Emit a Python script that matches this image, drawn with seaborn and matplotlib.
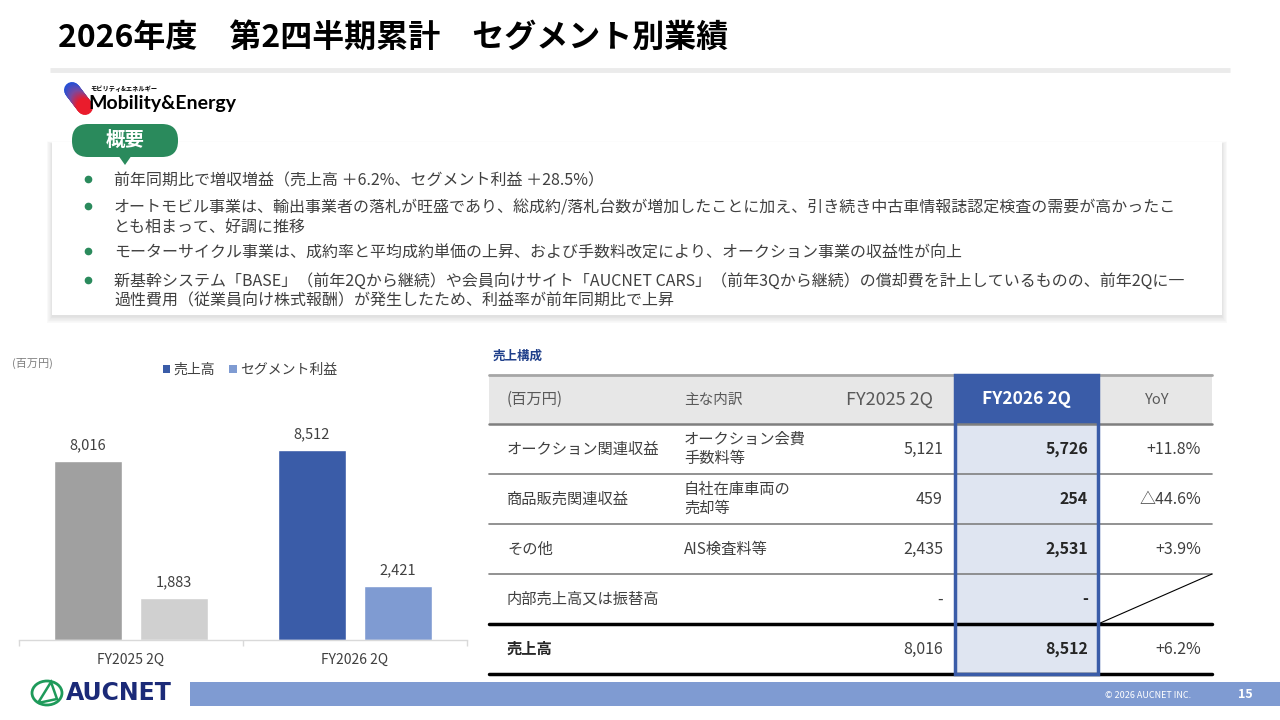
import numpy as np
import pandas as pd
import matplotlib
matplotlib.use('Agg')
import matplotlib.pyplot as plt
import seaborn as sns
from matplotlib.patches import Rectangle, FancyBboxPatch, Polygon, Ellipse
from matplotlib.collections import LineCollection

# ---- data ----
periods = ['FY2025 2Q', 'FY2026 2Q']
sales = [8016, 8512]
seg_profit = [1883, 2421]
series_names = ['売上高', 'セグメント利益']

title = '2026年度　第2四半期累計　セグメント別業績'
bullets = [
    '前年同期比で増収増益（売上高 ＋6.2%、セグメント利益 ＋28.5%）',
    'オートモビル事業は、輸出事業者の落札が旺盛であり、総成約/落札台数が増加したことに加え、引き続き中古車情報誌認定検査の需要が高かったこ\nとも相まって、好調に推移',
    'モーターサイクル事業は、成約率と平均成約単価の上昇、および手数料改定により、オークション事業の収益性が向上',
    '新基幹システム「BASE」（前年2Qから継続）や会員向けサイト「AUCNET CARS」（前年3Qから継続）の償却費を計上しているものの、前年2Qに一\n過性費用（従業員向け株式報酬）が発生したため、利益率が前年同期比で上昇',
]

table_header = ['(百万円)', '主な内訳', 'FY2025 2Q', 'FY2026 2Q', 'YoY']
row_labels = ['オークション関連収益', '商品販売関連収益', 'その他', '内部売上高又は振替高', '売上高']
row_details = ['オークション会費\n手数料等', '自社在庫車両の\n売却等', 'AIS検査料等', '', '']
fy2025_vals = ['5,121', '459', '2,435', '-', '8,016']
fy2026_vals = ['5,726', '254', '2,531', '-', '8,512']
yoy_vals = ['+11.8%', '△44.6%', '+3.9%', '', '+6.2%']

# ---- style ----
sns.set_theme(style='white')
plt.rcParams['font.family'] = ['Noto Sans CJK JP', 'DejaVu Sans']

W, H = 1280, 720
fig = plt.figure(figsize=(12.8, 7.2), dpi=100)
fig.patch.set_facecolor('white')

# slide canvas in pixel coordinates
cv = fig.add_axes([0, 0, 1, 1])
cv.set_xlim(0, W)
cv.set_ylim(H, 0)
cv.axis('off')

txt = '#404040'
green = '#2a8a5c'
blue = '#3a5ca8'
lblue = '#7f9bd2'

# title
cv.text(58, 38, title, fontsize=23, fontweight='bold', color='black', va='center', ha='left')
cv.plot([50, 1230], [70, 70], color='#ebebeb', lw=3.5, solid_capstyle='butt')

# Mobility&Energy logo
n = 30
ys = np.linspace(90, 107, n)
xs = np.linspace(72, 85, n)
pts = np.column_stack([xs, ys]).reshape(-1, 1, 2)
segs = np.concatenate([pts[:-1], pts[1:]], axis=1)
cmap = matplotlib.colors.LinearSegmentedColormap.from_list('me', ['#2350d8', '#7a4aa0', '#ea1c2c'])
lc = LineCollection(segs, colors=cmap(np.linspace(0, 1, n - 1)), linewidths=11.5, capstyle='round')
cv.add_collection(lc)
cv.text(90, 89, 'モビリティ&エネルギー', fontsize=4.5, fontweight='bold', color='black', va='center')
cv.text(88, 104, 'Mobility&Energy', fontsize=14, fontweight='bold', color='black', va='center',
        family=['Lato', 'DejaVu Sans'])

# summary box with shadow
for i in range(10):
    cv.add_patch(Rectangle((52 - i * 0.6, 142 + 2 - i * 0.3), 1170 + i * 1.2, 173 + i * 1.0,
                           fc='#000000', alpha=0.012, ec='none', zorder=1))
cv.add_patch(Rectangle((52, 142), 1170, 173, fc='white', ec='none', zorder=2))

# badge
cv.add_patch(FancyBboxPatch((72, 124), 106, 33, boxstyle='round,pad=0,rounding_size=16',
                            fc=green, ec='none', zorder=3))
cv.add_patch(Polygon([(118, 155), (132, 155), (125, 165)], closed=True, fc=green, ec='none', zorder=3))
cv.text(125, 140, '概要', fontsize=14, fontweight='bold', color='white', ha='center', va='center', zorder=4)

# bullets
bullet_y = [181, 208, 253, 282]
for y0, b in zip(bullet_y, bullets):
    cv.plot(88, y0 - 2, 'o', color=green, ms=4.5, zorder=4)
    for k, line in enumerate(b.split('\n')):
        cv.text(114, y0 + k * 19, line, fontsize=11.5, color=txt, va='center', ha='left', zorder=4)

# ---- bar chart ----
px_per_unit = (640 - 461) / 8016
ymax = 10000
ax_h = ymax * px_per_unit
ax = fig.add_axes([19 / W, (H - 640) / H, 448 / W, ax_h / H])
df = pd.DataFrame({
    'period': periods * 2,
    'value': sales + seg_profit,
    'series': [series_names[0]] * 2 + [series_names[1]] * 2,
})
sns.barplot(data=df, x='period', y='value', hue='series', palette=[blue, lblue],
            width=0.768, gap=0.21, saturation=1, ax=ax, legend=False)
# previous year bars in gray
ax.containers[0][0].set_facecolor('#a0a0a0')
ax.containers[1][0].set_facecolor('#d0d0d0')
for c in ax.containers:
    ax.bar_label(c, fmt='{:,.0f}', padding=6, fontsize=10.5, color=txt)

ax.set_xlim(-0.5, 1.5)
ax.set_ylim(0, ymax)
ax.set_xlabel('')
ax.set_ylabel('')
ax.set_yticks([])
ax.set_facecolor('none')
for s in ['top', 'right', 'left']:
    ax.spines[s].set_visible(False)
ax.spines['bottom'].set_color('#d9d9d9')
ax.spines['bottom'].set_linewidth(1)
ax.set_xticks([-0.5, 0.5, 1.5], minor=True)
ax.tick_params(axis='x', which='major', length=0, labelsize=10, labelcolor=txt, pad=9)
ax.tick_params(axis='x', which='minor', length=4, color='#d9d9d9', bottom=True)

handles = [Rectangle((0, 0), 1, 1, fc=c, ec='none') for c in [blue, lblue]]
fig.legend(handles, series_names, loc='center', bbox_to_anchor=(250 / W, 1 - 370 / H),
           ncol=2, frameon=False, fontsize=10, handlelength=0.55, handleheight=0.55,
           handletextpad=0.25, columnspacing=1.0, labelcolor=txt)
cv.text(12, 363, '(百万円)', fontsize=8, color='#7f7f7f', va='center')

# ---- table ----
cv.text(493, 356, '売上構成', fontsize=9, fontweight='bold', color='#1f3f8a', va='center')
L, R = 489, 1212
hl0, hl1 = 955, 1098
top, hdr, row_h = 375, 424, 50
bottom = hdr + row_h * len(row_labels)
cv.add_patch(Rectangle((L, top), R - L, hdr - top, fc='#e7e7e7', ec='none', zorder=2))
cv.add_patch(Rectangle((hl0, top), hl1 - hl0, hdr - top, fc=blue, ec='none', zorder=2))
cv.add_patch(Rectangle((hl0, hdr), hl1 - hl0, bottom - hdr, fc='#dfe5f1', ec='none', zorder=2))

cv.plot([L, R], [top, top], color='#a6a6a6', lw=2, zorder=3)
cv.plot([L, R], [hdr, hdr], color='#7f7f7f', lw=1.8, zorder=3)
for i in range(1, len(row_labels) - 1):
    cv.plot([L, R], [hdr + i * row_h] * 2, color='#7f7f7f', lw=1.2, zorder=3)
y_tot = hdr + (len(row_labels) - 1) * row_h
cv.plot([L, R], [y_tot, y_tot], color='black', lw=2.5, zorder=3)
cv.plot([L, R], [bottom, bottom], color='black', lw=2.5, zorder=3)
cv.plot([hl1, R], [y_tot, y_tot - row_h], color='black', lw=0.8, zorder=3)
cv.add_patch(Rectangle((hl0, top), hl1 - hl0, bottom - top, fill=False, ec=blue, lw=2.5, zorder=5))

hy = (top + hdr) / 2
hc = '#595959'
cv.text(507, hy, table_header[0], fontsize=11, color=hc, va='center', zorder=4)
cv.text(684, hy, table_header[1], fontsize=10.5, color=hc, va='center', zorder=4)
cv.text(933, hy, table_header[2], fontsize=13, color=hc, va='center', ha='right', zorder=4)
cv.text((hl0 + hl1) / 2, hy, table_header[3], fontsize=12.5, fontweight='bold', color='white',
        va='center', ha='center', zorder=6)
cv.text(1157, hy, table_header[4], fontsize=10.5, color=hc, va='center', ha='center', zorder=4)

for i in range(len(row_labels)):
    y = hdr + row_h * i + row_h / 2
    is_total = i == len(row_labels) - 1
    cv.text(507, y, row_labels[i], fontsize=11, color='#262626' if is_total else txt,
            fontweight='bold' if is_total else 'normal', va='center', zorder=4)
    cv.text(684, y, row_details[i], fontsize=11, color=txt, va='center', linespacing=1.15, zorder=4)
    cv.text(943, y, fy2025_vals[i], fontsize=11.5, color=txt, va='center', ha='right', zorder=4)
    cv.text(1088, y, fy2026_vals[i], fontsize=11.5, fontweight='bold', color='#262626',
            va='center', ha='right', zorder=6)
    cv.text(1201, y, yoy_vals[i], fontsize=11.5, color=txt, va='center', ha='right', zorder=4)

# ---- footer ----
cv.add_patch(Rectangle((190, 682), W - 190, 24, fc=lblue, ec='none'))
cv.text(1148, 696, '© 2026 AUCNET INC.', fontsize=6.5, color='white', ha='center', va='center')
cv.text(1245, 695, '15', fontsize=9, fontweight='bold', color='white', ha='center', va='center')
cv.add_patch(Ellipse((47, 693), 30, 24, fill=False, ec='#1e9a5a', lw=2))
cv.add_patch(Polygon([(38, 703), (51, 682), (57, 699)], closed=True, fill=False, ec='#1e9a5a', lw=1.8))
cv.text(66, 693, 'AUCNET', fontsize=17, fontweight='bold', color='#1b2a78', va='center',
        family=['Liberation Sans Narrow', 'DejaVu Sans'])

fig.savefig('out.png', dpi=100, facecolor='white')
